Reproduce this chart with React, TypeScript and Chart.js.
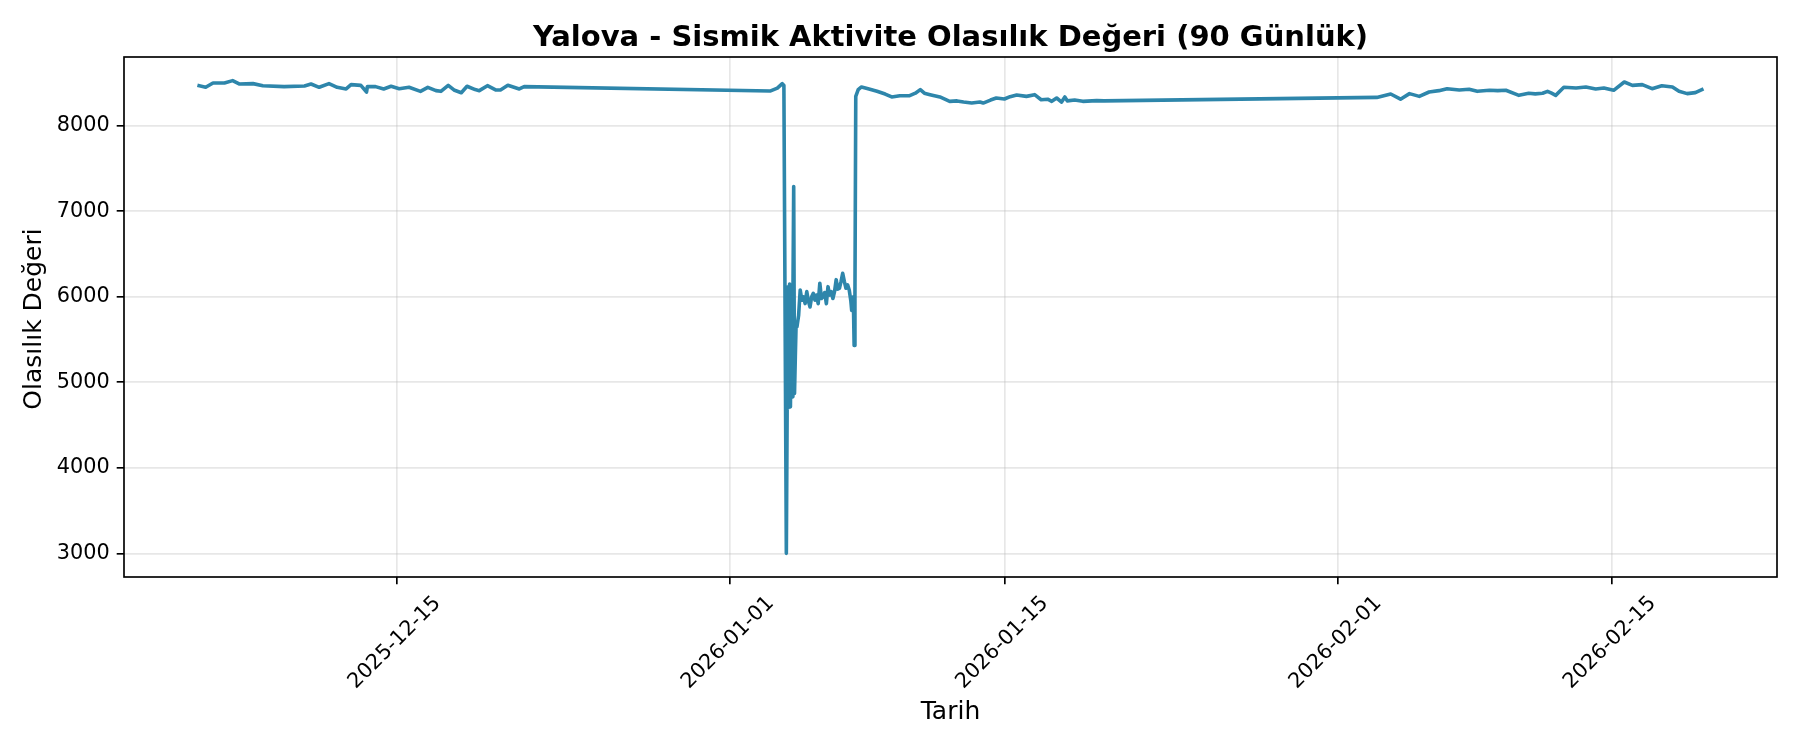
import React, { useEffect, useRef } from "react";
import { Chart, registerables } from "chart.js";

Chart.register(...registerables);

const chartTitle = "Yalova - Sismik Aktivite Olasılık Değeri (90 Günlük)";
const xAxisLabel = "Tarih";
const yAxisLabel = "Olasılık Değeri";

const timestamps: string[] = [
  "2025-12-04T22:00", "2025-12-05T06:00", "2025-12-05T15:00", "2025-12-06T05:00", "2025-12-06T15:00",
  "2025-12-06T23:00", "2025-12-07T16:00", "2025-12-08T04:00", "2025-12-09T06:00", "2025-12-10T07:00",
  "2025-12-10T15:00", "2025-12-11T01:00", "2025-12-11T13:00", "2025-12-11T23:00", "2025-12-12T10:00",
  "2025-12-12T16:00", "2025-12-13T04:00", "2025-12-13T11:00", "2025-12-13T12:00", "2025-12-13T22:00",
  "2025-12-14T08:00", "2025-12-14T17:00", "2025-12-15T03:00", "2025-12-15T15:00", "2025-12-16T05:00",
  "2025-12-16T14:00", "2025-12-17T00:00", "2025-12-17T06:00", "2025-12-17T15:00", "2025-12-17T22:00",
  "2025-12-18T07:00", "2025-12-18T14:00", "2025-12-19T00:00", "2025-12-19T05:00", "2025-12-19T15:00",
  "2025-12-20T01:00", "2025-12-20T07:00", "2025-12-20T16:00", "2025-12-21T06:00", "2025-12-21T12:00",
  "2026-01-03T01:00", "2026-01-03T10:00", "2026-01-03T16:00", "2026-01-03T18:00", "2026-01-03T21:00",
  "2026-01-03T22:00", "2026-01-03T23:00", "2026-01-04T00:00", "2026-01-04T01:00", "2026-01-04T02:00",
  "2026-01-04T03:00", "2026-01-04T04:00", "2026-01-04T05:00", "2026-01-04T06:00", "2026-01-04T07:00",
  "2026-01-04T08:00", "2026-01-04T09:00", "2026-01-04T10:00", "2026-01-04T12:00", "2026-01-04T14:00",
  "2026-01-04T16:00", "2026-01-04T18:00", "2026-01-04T20:00", "2026-01-04T22:00", "2026-01-05T00:00",
  "2026-01-05T02:00", "2026-01-05T04:00", "2026-01-05T06:00", "2026-01-05T08:00", "2026-01-05T10:00",
  "2026-01-05T12:00", "2026-01-05T14:00", "2026-01-05T16:00", "2026-01-05T18:00", "2026-01-05T20:00",
  "2026-01-05T22:00", "2026-01-06T00:00", "2026-01-06T02:00", "2026-01-06T04:00", "2026-01-06T06:00",
  "2026-01-06T08:00", "2026-01-06T10:00", "2026-01-06T12:00", "2026-01-06T14:00", "2026-01-06T16:00",
  "2026-01-06T18:00", "2026-01-06T20:00", "2026-01-06T22:00", "2026-01-07T00:00", "2026-01-07T02:00",
  "2026-01-07T04:00", "2026-01-07T05:00", "2026-01-07T07:00", "2026-01-07T08:00", "2026-01-07T09:00",
  "2026-01-07T10:00", "2026-01-07T13:00", "2026-01-07T17:00", "2026-01-08T00:00", "2026-01-08T12:00",
  "2026-01-08T22:00", "2026-01-09T06:00", "2026-01-09T16:00", "2026-01-10T04:00", "2026-01-10T11:00",
  "2026-01-10T17:00", "2026-01-10T22:00", "2026-01-11T05:00", "2026-01-11T17:00", "2026-01-12T05:00",
  "2026-01-12T14:00", "2026-01-12T22:00", "2026-01-13T08:00", "2026-01-13T18:00", "2026-01-13T22:00",
  "2026-01-14T07:00", "2026-01-14T14:00", "2026-01-15T00:00", "2026-01-15T07:00", "2026-01-15T15:00",
  "2026-01-16T03:00", "2026-01-16T13:00", "2026-01-16T21:00", "2026-01-17T05:00", "2026-01-17T10:00",
  "2026-01-17T16:00", "2026-01-17T22:00", "2026-01-18T02:00", "2026-01-18T05:00", "2026-01-18T14:00",
  "2026-01-19T00:00", "2026-01-19T17:00", "2026-01-20T02:00",
  "2026-02-03T00:00", "2026-02-03T17:00", "2026-02-04T05:00", "2026-02-04T16:00", "2026-02-05T04:00",
  "2026-02-05T16:00", "2026-02-06T04:00", "2026-02-06T14:00", "2026-02-07T05:00", "2026-02-07T17:00",
  "2026-02-08T03:00", "2026-02-08T18:00", "2026-02-09T04:00", "2026-02-09T14:00", "2026-02-10T06:00",
  "2026-02-10T18:00", "2026-02-11T02:00", "2026-02-11T11:00", "2026-02-11T17:00", "2026-02-11T22:00",
  "2026-02-12T03:00", "2026-02-12T13:00", "2026-02-13T04:00", "2026-02-13T16:00", "2026-02-14T04:00",
  "2026-02-14T14:00", "2026-02-15T02:00", "2026-02-15T15:00", "2026-02-16T01:00", "2026-02-16T13:00",
  "2026-02-17T01:00", "2026-02-17T13:00", "2026-02-18T02:00", "2026-02-18T10:00", "2026-02-18T20:00",
  "2026-02-19T06:00", "2026-02-19T14:00",
];

const probabilityValues: number[] = [
  8468, 8449, 8500, 8500, 8527,
  8488, 8492, 8468, 8457, 8465,
  8488, 8449, 8492, 8449, 8430,
  8480, 8472, 8394, 8457, 8457,
  8430, 8461, 8433, 8449, 8402,
  8449, 8410, 8402, 8472, 8418,
  8386, 8461, 8422, 8410, 8468,
  8418, 8418, 8472, 8430, 8457,
  8405, 8440, 8492, 8470, 3000,
  4700, 6118, 4750, 6150, 4713,
  5600, 4830, 5900, 7289, 4870,
  5300, 5700, 5650, 5780, 6080,
  5960, 6000, 5920, 6060, 5950,
  5880, 6000, 6040, 5960, 6020,
  5920, 6158, 5980, 6000, 6050,
  5920, 6118, 6020, 6060, 5980,
  6060, 6200, 6090, 6100, 6180,
  6275, 6180, 6100, 6140, 6080,
  5950, 5840, 6000, 5430, 6000,
  8343, 8421, 8453, 8435, 8402,
  8370, 8336, 8351, 8351, 8380,
  8422, 8380, 8363, 8336, 8285,
  8290, 8277, 8265, 8277, 8265,
  8300, 8324, 8312, 8340, 8359,
  8343, 8363, 8304, 8310, 8285,
  8324, 8277, 8336, 8290, 8300,
  8285, 8293, 8290,
  8331, 8371, 8310, 8375, 8343,
  8394, 8410, 8433, 8418, 8426,
  8402, 8414, 8410, 8414, 8355,
  8379, 8372, 8379, 8402, 8380,
  8355, 8449, 8441, 8453, 8430,
  8441, 8414, 8511, 8472, 8480,
  8433, 8468, 8453, 8402, 8375,
  8387, 8422,
];

const xTickLabels: string[] = ["2025-12-15", "2026-01-01", "2026-01-15", "2026-02-01", "2026-02-15"];
const yTickValues: number[] = [3000, 4000, 5000, 6000, 7000, 8000];

const FONT = "'DejaVu Sans', 'Liberation Sans', sans-serif";
const LINE_COLOR = "#2E86AB";
const GRID_COLOR = "rgba(176,176,176,0.3)";

function toMs(s: string): number {
  const [d, t = "00:00"] = s.split("T");
  const [Y, M, D] = d.split("-").map(Number);
  const [h, m] = t.split(":").map(Number);
  return Date.UTC(Y, M - 1, D, h, m);
}

export default function App() {
  const canvasRef = useRef<HTMLCanvasElement | null>(null);

  useEffect(() => {
    const canvas = canvasRef.current;
    if (!canvas) return;

    const points = timestamps.map((t, i) => ({ x: toMs(t), y: probabilityValues[i] }));
    const xs = points.map((p) => p.x);
    const ys = points.map((p) => p.y);
    const xMinD = Math.min(...xs), xMaxD = Math.max(...xs);
    const yMinD = Math.min(...ys), yMaxD = Math.max(...ys);
    const xPad = (xMaxD - xMinD) * 0.05;
    const yPad = (yMaxD - yMinD) * 0.05;
    const xTickValues = xTickLabels.map((s) => toMs(s));

    const decor = {
      id: "decor",
      afterDatasetsDraw(chart: any) {
        const { ctx, chartArea: a } = chart;
        ctx.save();
        ctx.strokeStyle = "#000";
        ctx.lineWidth = 1.67;
        ctx.strokeRect(a.left, a.top, a.right - a.left, a.bottom - a.top);
        ctx.restore();
      },
      afterDraw(chart: any) {
        const { ctx, chartArea: a } = chart;
        const xScale = chart.scales.x;
        const cx = (a.left + a.right) / 2;
        ctx.save();
        ctx.fillStyle = "#000";

        // title
        ctx.font = `bold 29px ${FONT}`;
        ctx.textAlign = "center";
        ctx.textBaseline = "alphabetic";
        ctx.fillText(chartTitle, cx, 46);

        // x axis label
        ctx.font = `25px ${FONT}`;
        ctx.fillText(xAxisLabel, cx, 719);

        // y axis label
        ctx.save();
        ctx.translate(34, (a.top + a.bottom) / 2 + 2);
        ctx.rotate(-Math.PI / 2);
        ctx.textAlign = "center";
        ctx.textBaseline = "middle";
        ctx.fillText(yAxisLabel, 0, 0);
        ctx.restore();

        // rotated x tick labels (centered under tick, like matplotlib ha=center)
        ctx.font = `20.8px ${FONT}`;
        xTickLabels.forEach((lab, i) => {
          const px = xScale.getPixelForValue(xTickValues[i]);
          const w = ctx.measureText(lab).width;
          const half = ((w + 24) * Math.SQRT1_2) / 2;
          const cy = a.bottom + 14.6 + half;
          ctx.save();
          ctx.translate(px - 2, cy);
          ctx.rotate(-Math.PI / 4);
          ctx.textAlign = "center";
          ctx.textBaseline = "middle";
          ctx.fillText(lab, 0, 0);
          ctx.restore();
        });
        ctx.restore();
      },
    };

    const chart = new Chart(canvas, {
      type: "line",
      data: {
        datasets: [
          {
            data: points,
            borderColor: LINE_COLOR,
            backgroundColor: LINE_COLOR,
            borderWidth: 3.6,
            pointRadius: 0,
            pointHoverRadius: 0,
            tension: 0,
            fill: false,
            borderJoinStyle: "round",
            borderCapStyle: "square",
          },
        ],
      },
      options: {
        animation: false,
        responsive: false,
        events: [],
        parsing: false,
        normalized: true,
        layout: { padding: { top: 57, right: 23, left: 0, bottom: 0 } },
        plugins: {
          legend: { display: false },
          tooltip: { enabled: false },
          title: { display: false },
        },
        scales: {
          x: {
            type: "linear",
            min: xMinD - xPad,
            max: xMaxD + xPad,
            afterBuildTicks: (scale: any) => {
              scale.ticks = xTickValues.map((v) => ({ value: v }));
            },
            afterFit: (scale: any) => {
              scale.height = 173;
            },
            ticks: { display: false },
            grid: {
              color: GRID_COLOR,
              lineWidth: 1.67,
              drawTicks: true,
              tickLength: 7.3,
              tickColor: "#000",
              tickWidth: 1.67,
            },
            border: { display: false },
          },
          y: {
            type: "linear",
            min: yMinD - yPad,
            max: yMaxD + yPad,
            afterBuildTicks: (scale: any) => {
              scale.ticks = yTickValues.map((v) => ({ value: v }));
            },
            afterFit: (scale: any) => {
              scale.width = 124;
            },
            ticks: {
              autoSkip: false,
              padding: 7,
              color: "#000",
              font: { family: FONT, size: 20.8 },
              callback: (v: any) => String(v),
            },
            grid: {
              color: GRID_COLOR,
              lineWidth: 1.67,
              drawTicks: true,
              tickLength: 7.3,
              tickColor: "#000",
              tickWidth: 1.67,
            },
            border: { display: false },
          },
        },
      },
      plugins: [decor],
    } as any);

    return () => {
      chart.destroy();
    };
  }, []);

  return (
    <div style={{ position: "absolute", left: 0, top: 0, width: 1800, height: 750, background: "#fff" }}>
      <canvas ref={canvasRef} width={1800} height={750} style={{ display: "block", width: 1800, height: 750 }} />
    </div>
  );
}
